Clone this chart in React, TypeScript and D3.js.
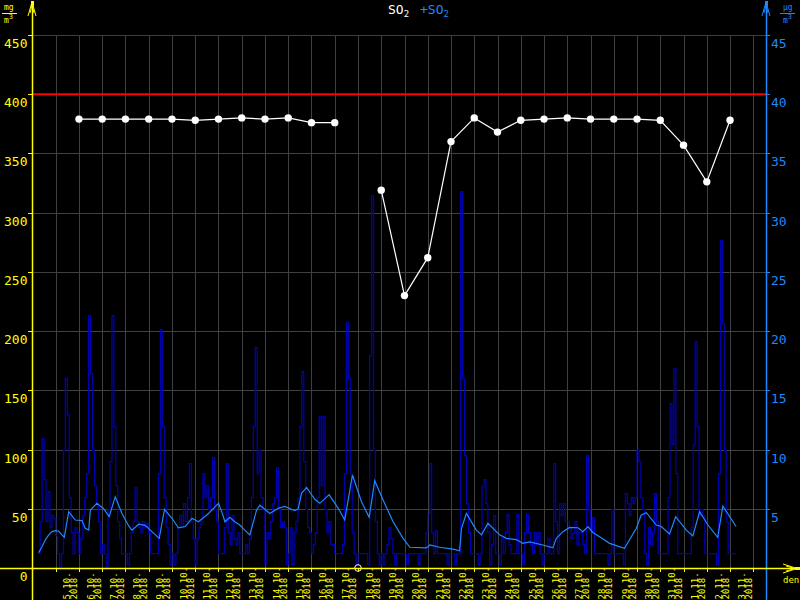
import React from "react";
import * as d3 from "d3";

// ---- data ----
const dayLabels = ["5.10.","6.10.","7.10.","8.10.","9.10.","10.10.","11.10.","12.10.","13.10.","14.10.","15.10.","16.10.","17.10.","18.10.","19.10.","20.10.","21.10.","22.10.","23.10.","24.10.","25.10.","26.10.","27.10.","28.10.","29.10.","30.10.","31.10.","1.11.","2.11.","3.11."];
const labelYear = "2018";
const leftTicks = [0, 50, 100, 150, 200, 250, 300, 350, 400, 450];
const rightTicks = [5, 10, 15, 20, 25, 30, 35, 40, 45];
const limitValue = 400;
// daily means (mg/m3), one per day boundary 1..29, null = missing
const dailyMeans: (number | null)[] = [379, 379, 379, 379, 379, 378, 379, 380, 379, 380, 376, 376, null, 319, 230, 262, 360, 380, 368, 378, 379, 380, 379, 379, 379, 378, 357, 326, 378];
// 2-hourly SO2 (µg/m3), starting at day -0.75
const hourlyStart = -0.75;
const hourlyStep = 1 / 12;
const hourlySO2 = [
  1.3, 4, 11, 7.5, 4, 6.5, 3.5, 4.5, 4.2,
  2.8, 1.3, 0.2, 1.3, 10, 16, 13, 6, 3, 1.3, 3.5, 3,
  1.3, 2.5, 4.5, 6, 8, 21.4, 16.5, 10, 7, 5.5, 4, 1.3,
  2, 1.3, 0.2, 5, 9, 21.4, 12, 7, 4, 2.5, 1.3, 1.3,
  1.3, 0.3, 1.3, 3, 4, 6.8, 4, 3.5, 3, 4, 3.5, 3.8,
  3, 1.3, 1.3, 1.3, 1.3, 8, 20.2, 12, 6, 3.5, 2, 0.3,
  1.3, 0.3, 1.3, 3.5, 4.5, 3.5, 5.5, 4, 6, 8.9, 4, 2.5,
  0.3, 2.5, 3.5, 4, 8, 6, 7, 5, 6, 9.4, 5, 4,
  1.3, 1.3, 1.3, 3.5, 8.9, 3, 2, 4.5, 2.5, 2, 3, 1.3,
  1.3, 1.3, 2, 1.3, 2.5, 6, 12, 18.7, 8, 10, 6, 5,
  0.3, 3, 2.5, 4, 5.5, 6, 8.5, 5, 3.5, 4, 3.5, 0.3,
  1.3, 3.5, 0.3, 3, 4, 6, 12, 16.6, 9, 5, 3.5, 3,
  1.3, 2, 3, 6, 12.8, 7, 12.8, 5, 3, 4, 2, 2,
  1.3, 1.3, 1.3, 1.3, 2, 8, 20.8, 16, 8, 3, 1.3, 0.3,
  1.3, 1.3, 1.3, 1.3, 1.3, 0.3, 18, 31.5, 10, 4, 1.3, 0.3,
  1.3, 0.3, 1.3, 2, 3.5, 2.5, 1.3, 0.3, 1.3, 1.3, 1.3, 1.3,
  1.3, 0.3, 1.3, 1.3, 1.3, 1.3, 1.3, 0.3, 1.3, 1.3, 1.3, 3,
  4.6, 8.9, 3, 1.3, 3.2, 1.3, 1.3, 1.3, 1.3, 1.3, 0.3, 1.3,
  1.3, 1.3, 0.3, 1.3, 1.3, 31.8, 16, 9.5, 5.5, 3, 1.3, 1.3,
  1.3, 1.3, 0.3, 1.3, 6.9, 7.5, 5.5, 3, 0.3, 2, 4.5, 1.3,
  1.3, 0.3, 2.5, 1.3, 3, 4.6, 2, 1.3, 1.3, 1.3, 4.6, 1.3,
  1.3, 0.3, 3, 4.6, 3, 2, 1.3, 3, 2, 3, 1.3, 0.3,
  1.3, 1.3, 2.5, 1.3, 1.3, 8.9, 4, 1.3, 5.5, 4.5, 5.5, 4,
  4, 3.5, 2.5, 3, 4, 2, 3, 3, 2, 1.3, 9.5, 5,
  3.2, 4.3, 1.3, 1.3, 1.3, 1.3, 1.3, 1.3, 1.3, 0.3, 1.3, 5,
  1.3, 1.3, 1.3, 1.3, 1.3, 0.3, 6.3, 5.5, 4.5, 6, 5.5, 6,
  10, 9, 6, 5, 1.3, 0.3, 3.5, 2, 3, 6.3, 4, 1.3,
  1.3, 1.3, 1.3, 1.3, 6, 13.9, 10.5, 16.9, 8, 1.3, 1.3, 1.3,
  1.3, 1.3, 1.3, 1.3, 3.5, 10.5, 19.2, 12, 4.5, 5, 4.5, 1.3,
  1.3, 1.3, 1.3, 1.3, 1.3, 0.3, 8, 27.7, 20.7, 10, 4, 1.3,
  1.3, 1.3, 1.3,
];
// running mean (µg/m3): [day, value]
const smoothSO2: [number, number][] = [
  [-0.73,1.3],[-0.59,1.8],[-0.45,2.36],[-0.30,2.8],[-0.16,3.07],[0,3.15],[0.13,3.1],[0.27,2.8],[0.37,2.6],[0.56,4.75],[0.70,4.4],[0.84,4.05],[1.13,4.0],[1.27,3.35],[1.42,3.2],[1.49,4.9],[1.77,5.46],[2.06,5.0],[2.30,4.33],[2.56,6.02],[2.85,4.6],[3.14,3.55],[3.28,3.2],[3.57,3.7],[3.85,3.6],[4.14,3.07],[4.45,2.5],[4.68,4.95],[5.0,4.2],[5.28,3.4],[5.57,3.5],[5.86,4.2],[6.14,3.9],[6.57,4.6],[7.0,5.46],[7.15,4.7],[7.28,3.9],[7.49,4.28],[7.70,3.9],[7.92,3.63],[8.13,3.2],[8.35,2.8],[8.64,4.9],[8.78,5.3],[9.21,4.6],[9.57,5.04],[9.85,5.2],[10.28,4.84],[10.43,5.0],[10.57,6.3],[10.79,6.8],[11.14,5.8],[11.36,5.46],[11.76,6.2],[12.15,5.04],[12.43,4.05],[12.76,7.85],[13.15,5.6],[13.48,4.28],[13.72,7.37],[14.08,5.74],[14.51,3.9],[14.94,2.5],[15.23,1.75],[15.94,1.7],[16.09,1.94],[16.51,1.75],[17.09,1.6],[17.37,1.46],[17.45,3.35],[17.66,4.6],[18.09,3.2],[18.31,2.8],[18.59,3.77],[19.09,2.8],[19.38,2.5],[19.81,2.4],[20.09,2.08],[20.38,2.2],[20.95,1.94],[21.38,1.7],[21.53,2.5],[21.81,3.07],[22.10,3.43],[22.46,3.4],[22.67,3.07],[22.89,3.5],[23.1,3.0],[23.39,2.64],[23.82,2.08],[24.46,1.66],[24.97,3.35],[25.18,4.47],[25.40,4.67],[25.83,3.63],[26.04,3.5],[26.40,2.87],[26.66,4.33],[27.12,3.2],[27.40,2.7],[27.69,4.75],[28.05,3.63],[28.47,2.59],[28.69,5.23],[29.26,3.5],
];

const YELLOW = "#ffff00";
const BLUE = "#1e88ff";
const GRID = "#404040";
const DARK = "#0000b4";
const MONO = "'DejaVu Sans Mono', monospace";

export default function App() {
  const W = 800, H = 600;
  const xL = 32, xR = 766, yTop = 35, yBot = 568;
  const x = d3.scaleLinear().domain([0, 30]).range([55.7, 753.3]);
  const yL = d3.scaleLinear().domain([0, 450]).range([yBot, yTop]);
  const yR = d3.scaleLinear().domain([0, 45]).range([yBot, yTop]);

  const hourlyPts = hourlySO2.map((v, i) => [hourlyStart + i * hourlyStep, v] as [number, number]);
  hourlyPts.push([hourlyStart + hourlySO2.length * hourlyStep, hourlySO2[hourlySO2.length - 1]]);
  const stepLine = d3.line<[number, number]>().x(d => x(d[0])).y(d => Math.round(yR(d[1])) + 0.5).curve(d3.curveStepAfter);
  const smoothLine = d3.line<[number, number]>().x(d => x(d[0])).y(d => yR(d[1]));
  const meanPts = dailyMeans.map((v, i) => ({ d: i + 1, v }));
  const meanLine = d3.line<{ d: number; v: number | null }>().defined(p => p.v != null).x(p => x(p.d)).y(p => yL(p.v as number));

  const days = d3.range(0, 31);
  const gridVals = leftTicks.filter(t => t > 0);

  return (
    <svg width={W} height={H} style={{ position: "absolute", left: 0, top: 0, background: "#000" }}>
      <rect x={0} y={0} width={W} height={H} fill="#000" />
      {/* grid */}
      <g shapeRendering="crispEdges">
        {days.map(k => (
          <line key={"vg" + k} x1={Math.round(x(k)) + 0.5} x2={Math.round(x(k)) + 0.5} y1={yTop} y2={yBot} stroke={GRID} strokeWidth={1} />
        ))}
        {gridVals.map(t => (
          <line key={"hg" + t} x1={xL} x2={xR} y1={Math.round(yL(t)) + 0.5} y2={Math.round(yL(t)) + 0.5} stroke={GRID} strokeWidth={1} />
        ))}
      </g>
      {/* hourly */}
      <path d={stepLine(hourlyPts) || ""} fill="none" stroke={DARK} strokeWidth={1.25} />
      <path d={smoothLine(smoothSO2) || ""} fill="none" stroke={BLUE} strokeWidth={1.2} />
      {/* limit */}
      <line x1={xL} x2={xR} y1={yL(limitValue)} y2={yL(limitValue)} stroke="#ff0000" strokeWidth={2} />
      {/* daily means */}
      <path d={meanLine(meanPts) || ""} fill="none" stroke="#fff" strokeWidth={1.2} />
      {meanPts.filter(p => p.v != null).map(p => (
        <circle key={"m" + p.d} cx={x(p.d)} cy={yL(p.v as number)} r={3.7} fill="#fff" />
      ))}
      {meanPts.filter(p => p.v == null).map(p => (
        <circle key={"n" + p.d} cx={x(p.d)} cy={yBot} r={3.3} fill="#000" stroke="#fff" strokeWidth={1} />
      ))}
      {/* left axis */}
      <line x1={xL + 0.5} x2={xL + 0.5} y1={2} y2={H} stroke={YELLOW} strokeWidth={1.5} />
      <path d={`M${xL - 4},16 L${xL},2 L${xL + 4},16 M${xL - 2},13 L${xL},5 L${xL + 2},13`} fill="none" stroke={YELLOW} strokeWidth={1} />
      <rect x={xL - 1} y={1} width={3} height={5} fill={YELLOW} />
      {leftTicks.map(t => (
        <g key={"lt" + t}>
          <line x1={xL - 4} x2={xL} y1={Math.round(yL(t)) + 0.5} y2={Math.round(yL(t)) + 0.5} stroke={YELLOW} strokeWidth={1} />
          <text x={27.5} y={yL(t) + 13} fill={YELLOW} fontFamily={MONO} fontSize={13} textAnchor="end">{t}</text>
        </g>
      ))}
      <text x={4} y={10} fill={YELLOW} fontFamily={MONO} fontSize={8}>mg</text>
      <line x1={2} x2={17} y1={13.5} y2={13.5} stroke={YELLOW} strokeWidth={1} />
      <text x={4} y={23} fill={YELLOW} fontFamily={MONO} fontSize={8}>m<tspan dy={-4} fontSize={7}>3</tspan></text>
      {/* right axis */}
      <line x1={xR + 0.5} x2={xR + 0.5} y1={2} y2={H} stroke={BLUE} strokeWidth={1.5} />
      <path d={`M${xR - 4},16 L${xR},2 L${xR + 4},16 M${xR - 2},13 L${xR},5 L${xR + 2},13`} fill="none" stroke={BLUE} strokeWidth={1} />
      <rect x={xR - 1} y={1} width={3} height={5} fill={BLUE} />
      {rightTicks.map(t => (
        <g key={"rt" + t}>
          <line x1={xR} x2={xR + 4} y1={Math.round(yR(t)) + 0.5} y2={Math.round(yR(t)) + 0.5} stroke={BLUE} strokeWidth={1} />
          <text x={771} y={yR(t) + 13} fill={BLUE} fontFamily={MONO} fontSize={13}>{t}</text>
        </g>
      ))}
      <text x={783} y={10} fill={BLUE} fontFamily={MONO} fontSize={8}>µg</text>
      <line x1={780} x2={795} y1={13.5} y2={13.5} stroke={BLUE} strokeWidth={1} />
      <text x={783} y={23} fill={BLUE} fontFamily={MONO} fontSize={8}>m<tspan dy={-4} fontSize={7}>3</tspan></text>
      {/* x axis */}
      <line x1={0} x2={796} y1={yBot + 0.5} y2={yBot + 0.5} stroke={YELLOW} strokeWidth={1.5} />
      <path d={`M783,564 L797,568.5 L783,573 M786,566 L795,568.5 L786,571`} fill="none" stroke={YELLOW} strokeWidth={1} />
      <rect x={795} y={567} width={5} height={3} fill={YELLOW} />
      <text x={783} y={583} fill={YELLOW} fontFamily={MONO} fontSize={9}>den</text>
      {days.map(k => (
        <line key={"xt" + k} x1={Math.round(x(k)) + 0.5} x2={Math.round(x(k)) + 0.5} y1={yBot} y2={yBot + 4} stroke={YELLOW} strokeWidth={1} />
      ))}
      {dayLabels.map((lab, j) => {
        const tx = x(j + 1);
        return (
          <g key={"xl" + j}>
            <text transform={`translate(${tx - 8.5},599.5) rotate(-90)`} fill={YELLOW} fontFamily={MONO} fontSize={9}>{lab}</text>
            <text transform={`translate(${tx - 1.5},599.5) rotate(-90)`} fill={YELLOW} fontFamily={MONO} fontSize={9}>{labelYear}</text>
          </g>
        );
      })}
      {/* title */}
      <text x={388} y={13.5} fill="#fff" fontFamily={MONO} fontSize={13}>SO<tspan dy={3} fontSize={9}>2</tspan></text>
      <text x={420} y={13.5} fill={BLUE} fontFamily={MONO} fontSize={13}>+SO<tspan dy={3} fontSize={9}>2</tspan></text>
    </svg>
  );
}
